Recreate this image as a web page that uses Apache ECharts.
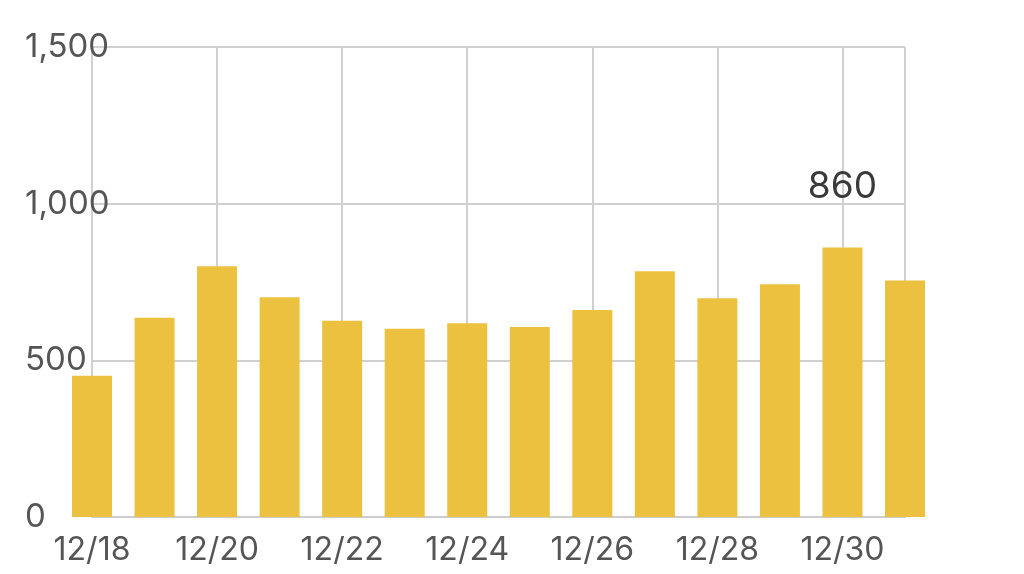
<!DOCTYPE html>
<html><head><meta charset="utf-8">
<script src="https://cdn.jsdelivr.net/npm/echarts@6/dist/echarts.min.js"></script>
<style>html,body{margin:0;padding:0;background:#fff}#c{width:1024px;height:574px}</style>
</head><body><div id="c"></div>
<script>
const categories = ['12/18','12/19','12/20','12/21','12/22','12/23','12/24','12/25','12/26','12/27','12/28','12/29','12/30','12/31'];
const values = [451, 636, 800, 701, 626, 601, 618, 606, 661, 784, 698, 743, 860, 755];
const yTicks = [0, 500, 1000, 1500];
const labeledIndex = 12;

const chart = echarts.init(document.getElementById('c'));
const font = 'Inter, "Liberation Sans", sans-serif';
chart.setOption({
  animation: false,
  grid: { left: 92, right: 119, top: 47, bottom: 57, containLabel: false },
  xAxis: {
    type: 'category',
    data: categories,
    boundaryGap: false,
    axisLine: { show: true, lineStyle: { color: '#cccccc', width: 2 } },
    axisTick: { show: false },
    axisLabel: { interval: 1, color: '#555555', fontSize: 32, fontFamily: font, margin: 17 },
    splitLine: {
      show: true,
      interval: (i) => i % 2 === 0 || i === categories.length - 1,
      lineStyle: { color: '#d0d0d0', width: 2 }
    }
  },
  yAxis: {
    type: 'value',
    min: yTicks[0], max: yTicks[yTicks.length - 1], interval: 500,
    axisLine: { show: false },
    axisTick: { show: false },
    axisLabel: {
      align: 'left', margin: 67, color: '#555555', fontSize: 33, fontFamily: font,
      padding: [6, 0, 0, 0],
      formatter: (v) => v.toLocaleString('en-US')
    },
    splitLine: { show: true, lineStyle: { color: '#d0d0d0', width: 2 } }
  },
  series: [{
    type: 'bar',
    clip: false,
    barWidth: 40,
    itemStyle: { color: '#EBC13F' },
    data: values.map((v, i) => i === labeledIndex
      ? { value: v, label: { show: true, position: 'top', distance: 42, color: '#3a3a3a', fontSize: 37, fontFamily: font } }
      : v)
  }]
});
</script></body></html>
